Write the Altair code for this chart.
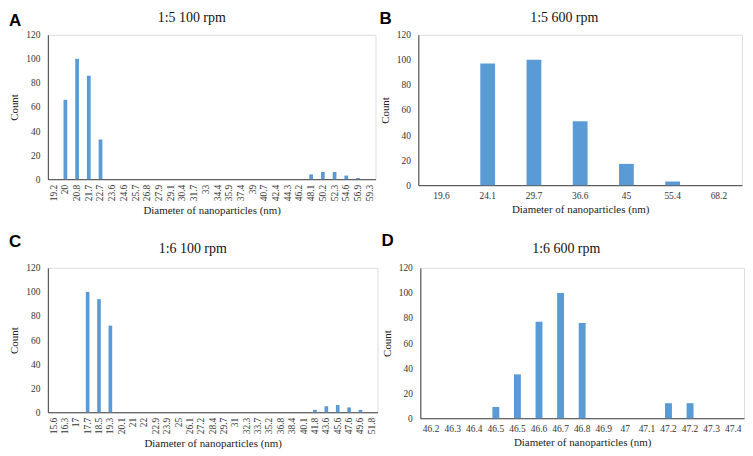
import altair as alt
import pandas as pd

# Panel A: 1:5 100 rpm
a_labels = ["19.2", "20", "20.8", "21.7", "22.7", "23.6", "24.6", "25.7", "26.8", "27.9",
            "29.1", "30.4", "31.7", "33", "34.4", "35.9", "37.4", "39", "40.7", "42.4",
            "44.3", "46.2", "48.1", "50.2", "52.3", "54.6", "56.9", "59.3"]
a_counts = [0, 66, 100, 86, 33, 0, 0, 0, 0, 0,
            0, 0, 0, 0, 0, 0, 0, 0, 0, 0,
            0, 0, 4, 6, 6, 3, 1, 0]

# Panel B: 1:5 600 rpm
b_labels = ["19.6", "24.1", "29.7", "36.6", "45", "55.4", "68.2"]
b_counts = [0, 97, 100, 51, 17, 3, 0]

# Panel C: 1:6 100 rpm
c_labels = ["15.6", "16.3", "17", "17.7", "18.5", "19.3", "20.1", "21", "22", "22.9",
            "23.9", "25", "26.1", "27.2", "28.4", "29.7", "31", "32.3", "33.7", "35.2",
            "36.8", "38.4", "40.1", "41.8", "43.6", "45.6", "47.6", "49.6", "51.8"]
c_counts = [0, 0, 0, 100, 94, 72, 0, 0, 0, 0,
            0, 0, 0, 0, 0, 0, 0, 0, 0, 0,
            0, 0, 0, 2, 5, 6, 4, 2, 0]

# Panel D: 1:6 600 rpm
d_labels = ["46.2", "46.3", "46.4", "46.5", "46.5", "46.6", "46.7", "46.8", "46.9", "47",
            "47.1", "47.2", "47.2", "47.3", "47.4"]
d_counts = [0, 0, 0, 9, 35, 77, 100, 76, 0, 0, 0, 12, 12, 0, 0]

y_ticks = [0, 20, 40, 60, 80, 100, 120]

BAR = "#5B9BD5"
SERIF = "Liberation Serif"
AXIS = "#404040"


def panel(labels, counts, letter, title, w, h, rotate, letter_y, title_y, title_dx):
    df = pd.DataFrame({"i": list(range(len(labels))), "count": counts})
    expr = "[" + ",".join("'%s'" % l for l in labels) + "][datum.value]"
    x = alt.X(
        "i:O",
        scale=alt.Scale(paddingInner=0.68, paddingOuter=0.34),
        axis=alt.Axis(
            title="Diameter of nanoparticles (nm)",
            labelExpr=expr,
            labelAngle=270 if rotate else 0,
            labelFont=SERIF, labelFontSize=9.5, labelColor="#333333",
            labelPadding=5,
            titleFont=SERIF, titleFontSize=11, titleFontWeight="normal",
            titleColor="#222222", titlePadding=4,
            ticks=False, domainColor=AXIS, labelOverlap=False,
        ),
    )
    y = alt.Y(
        "count:Q",
        scale=alt.Scale(domain=[0, 120]),
        axis=alt.Axis(
            title="Count", values=y_ticks,
            labelFont=SERIF, labelFontSize=9.5, labelColor="#333333",
            labelPadding=8,
            titleFont=SERIF, titleFontSize=11, titleFontWeight="normal",
            titleColor="#222222", titlePadding=6,
            ticks=False, grid=False, domainColor=AXIS,
        ),
    )
    bars = alt.Chart(df).mark_bar(color=BAR).encode(x=x, y=y)
    lab = alt.Chart(pd.DataFrame({"t": [letter]})).mark_text(
        align="left", baseline="middle", font="Liberation Sans",
        fontWeight="bold", fontSize=17, color="black",
    ).encode(x=alt.value(-39), y=alt.value(letter_y), text="t:N")
    ttl = alt.Chart(pd.DataFrame({"t": [title]})).mark_text(
        align="center", baseline="middle", font=SERIF,
        fontSize=14, color="#111111",
    ).encode(x=alt.value(w / 2 + title_dx), y=alt.value(title_y), text="t:N")
    return alt.layer(bars, lab, ttl).properties(width=w, height=h)


pa = panel(a_labels, a_counts, "A", "1:5 100 rpm", 329, 145, True, -14, -17, -20)
pb = panel(b_labels, b_counts, "B", "1:5 600 rpm", 325, 151, False, -16, -17, -16)
pc = panel(c_labels, c_counts, "C", "1:6 100 rpm", 331, 145, True, -26, -19, -20)
pd_ = panel(d_labels, d_counts, "D", "1:6 600 rpm", 325, 151, False, -27, -19, -16)

row1 = alt.hconcat(pa, pb, spacing=2)
row2 = alt.hconcat(pc, pd_, spacing=2)
chart = alt.vconcat(row1, row2, spacing=14).properties(padding=0).configure_view(
    stroke=None
).configure(background="white")

chart.save("out.html", embed_options={"renderer": "svg", "actions": False})
